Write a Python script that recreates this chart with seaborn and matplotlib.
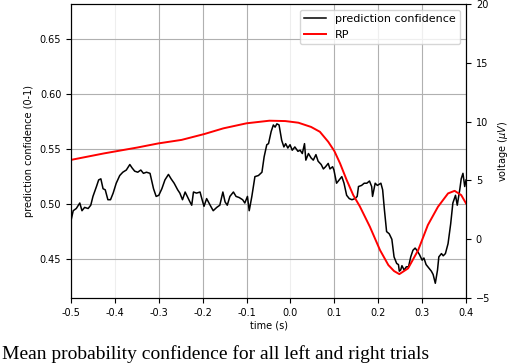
import pandas as pd
import matplotlib
matplotlib.use("Agg")
import matplotlib.pyplot as plt
import seaborn as sns

# prediction confidence (left axis)
conf_time = [
    -0.500, -0.495, -0.488, -0.480, -0.475, -0.469, -0.461, -0.455, -0.450, -0.442,
    -0.437, -0.432, -0.427, -0.422, -0.416, -0.410, -0.404, -0.397, -0.389, -0.382,
    -0.374, -0.366, -0.361, -0.355, -0.348, -0.341, -0.335, -0.328, -0.320, -0.312,
    -0.306, -0.300, -0.293, -0.286, -0.278, -0.272, -0.265, -0.257, -0.252, -0.246,
    -0.240, -0.234, -0.229, -0.225, -0.221, -0.214, -0.206, -0.202, -0.197, -0.191,
    -0.183, -0.176, -0.168, -0.161, -0.154, -0.149, -0.144, -0.138, -0.130, -0.124,
    -0.117, -0.109, -0.104, -0.098, -0.094, -0.088, -0.081, -0.073, -0.065, -0.060,
    -0.054, -0.050, -0.044, -0.039, -0.035, -0.031, -0.026, -0.020, -0.015, -0.011,
    -0.006, -0.001, 0.004, 0.010, 0.017, 0.022, 0.027, 0.032, 0.035, 0.041,
    0.047, 0.052, 0.058, 0.063, 0.070, 0.075, 0.080, 0.086, 0.090, 0.096,
    0.099, 0.105, 0.111, 0.117, 0.122, 0.128, 0.134, 0.140, 0.147, 0.152,
    0.155, 0.162, 0.168, 0.174, 0.180, 0.185, 0.187, 0.193, 0.198, 0.206,
    0.210, 0.214, 0.219, 0.225, 0.231, 0.236, 0.242, 0.246, 0.248, 0.251,
    0.254, 0.259, 0.264, 0.269, 0.274, 0.279, 0.284, 0.288, 0.294, 0.300,
    0.304, 0.309, 0.315, 0.321, 0.325, 0.330, 0.335, 0.338, 0.344, 0.348,
    0.353, 0.359, 0.365, 0.370, 0.376, 0.380, 0.386, 0.389, 0.393, 0.397,
    0.400,
]
conf_value = [
    0.485, 0.494, 0.496, 0.501, 0.494, 0.497, 0.496, 0.499, 0.507, 0.516,
    0.522, 0.523, 0.514, 0.513, 0.504, 0.504, 0.510, 0.519, 0.526, 0.529,
    0.531, 0.536, 0.533, 0.530, 0.529, 0.531, 0.528, 0.529, 0.528, 0.514,
    0.507, 0.508, 0.514, 0.522, 0.527, 0.523, 0.519, 0.513, 0.510, 0.504,
    0.511, 0.506, 0.502, 0.499, 0.511, 0.510, 0.511, 0.505, 0.498, 0.505,
    0.499, 0.494, 0.497, 0.499, 0.511, 0.502, 0.499, 0.507, 0.511, 0.507,
    0.506, 0.504, 0.501, 0.507, 0.494, 0.507, 0.525, 0.526, 0.529, 0.543,
    0.554, 0.555, 0.566, 0.572, 0.570, 0.573, 0.572, 0.558, 0.552, 0.555,
    0.551, 0.554, 0.549, 0.552, 0.548, 0.549, 0.546, 0.555, 0.540, 0.546,
    0.542, 0.540, 0.545, 0.539, 0.536, 0.532, 0.534, 0.537, 0.532, 0.534,
    0.531, 0.519, 0.522, 0.525, 0.519, 0.508, 0.505, 0.504, 0.505, 0.507,
    0.516, 0.517, 0.519, 0.519, 0.521, 0.516, 0.507, 0.519, 0.517, 0.519,
    0.513, 0.495, 0.475, 0.473, 0.468, 0.452, 0.446, 0.445, 0.439, 0.440,
    0.444, 0.440, 0.443, 0.443, 0.452, 0.458, 0.460, 0.458, 0.454, 0.449,
    0.451, 0.445, 0.442, 0.439, 0.436, 0.428, 0.440, 0.452, 0.455, 0.453,
    0.455, 0.464, 0.482, 0.501, 0.508, 0.499, 0.514, 0.523, 0.528, 0.516,
    0.522,
]

# readiness potential (right axis, microvolts)
rp_time = [
    -0.500, -0.425, -0.349, -0.301, -0.248, -0.196, -0.153, -0.100, -0.048, -0.012,
    0.018, 0.047, 0.067, 0.086, 0.100, 0.113, 0.128, 0.143, 0.158, 0.181,
    0.204, 0.223, 0.236, 0.248, 0.268, 0.291, 0.313, 0.336, 0.359, 0.374,
    0.389, 0.400,
]
rp_value = [
    6.75, 7.30, 7.80, 8.15, 8.45, 8.95, 9.43, 9.86, 10.08, 10.05,
    9.91, 9.55, 9.14, 8.29, 7.50, 6.45, 5.04, 3.76, 2.80, 1.06,
    -0.92, -2.19, -2.70, -2.96, -2.47, -0.92, 1.21, 2.76, 3.90, 4.12,
    3.76, 3.05,
]

x_ticks = [-0.5, -0.4, -0.3, -0.2, -0.1, 0.0, 0.1, 0.2, 0.3, 0.4]
left_ticks = [0.45, 0.50, 0.55, 0.60, 0.65]
right_ticks = [-5, 0, 5, 10, 15, 20]

caption = "Mean probability confidence for all left and right trials"

plt.rcParams["font.family"] = "DejaVu Sans"
plt.rcParams["font.size"] = 7

conf_df = pd.DataFrame({"time": conf_time, "confidence": conf_value})
rp_df = pd.DataFrame({"time": rp_time, "voltage": rp_value})

fig = plt.figure(figsize=(5.26, 3.64), dpi=100)
ax = fig.add_axes([0.135, 0.181, 0.751, 0.808])
ax2 = ax.twinx()

sns.lineplot(data=conf_df, x="time", y="confidence", color="black", lw=1.1,
             ax=ax, label="prediction confidence", legend=False)
sns.lineplot(data=rp_df, x="time", y="voltage", color="red", lw=1.4,
             ax=ax2, label="RP", legend=False)

ax.set_xlim(-0.5, 0.4)
ax.set_ylim(0.4145, 0.682)
ax2.set_ylim(-5, 20)
ax.set_xticks(x_ticks)
ax.set_xticklabels([f"{t:.1f}" for t in x_ticks])
ax.set_yticks(left_ticks)
ax.set_yticklabels([f"{t:.2f}" for t in left_ticks])
ax2.set_yticks(right_ticks)

ax.set_xlabel("time (s)", labelpad=2)
ax.set_ylabel("prediction confidence (0-1)")
ax2.set_ylabel(r"voltage ($\mu V$)")

ax.grid(True, color="#b0b0b0", lw=0.8)
# the -0.4 and 0.0 gridlines are barely visible in the original
for i in (1, 5):
    ax.xaxis.get_gridlines()[i].set_color("#eeeeee")

h1, l1 = ax.get_legend_handles_labels()
h2, l2 = ax2.get_legend_handles_labels()
ax2.legend(h1 + h2, l1 + l2, loc="upper right", fontsize=8)

# caption of the source figure, kept fully inside the image
fig.text(0.004, 0.002, caption, family="Liberation Serif", fontsize=14,
         ha="left", va="bottom")

fig.savefig("out.png", dpi=100)
